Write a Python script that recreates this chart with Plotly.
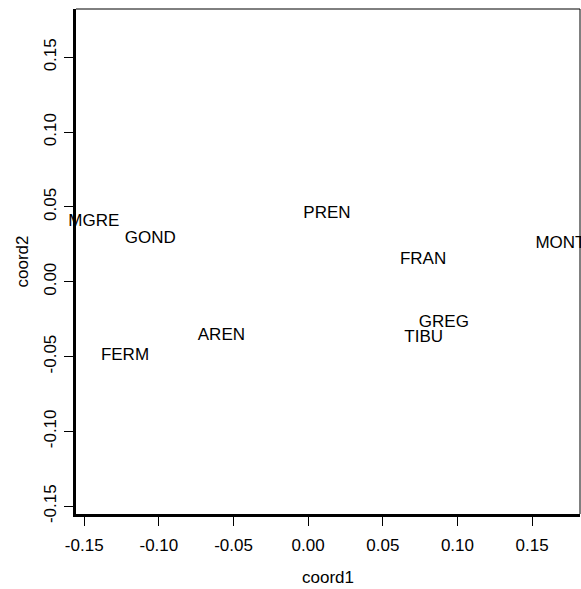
import plotly.graph_objects as go

labels = ["MGRE", "GOND", "PREN", "FRAN", "MONT", "FERM", "AREN", "GREG", "TIBU"]
coord1 = [-0.1436, -0.1058, 0.0126, 0.0770, 0.1690, -0.1227, -0.0581, 0.0909, 0.0774]
coord2 = [0.0404, 0.0289, 0.0456, 0.0148, 0.0255, -0.0496, -0.0364, -0.0275, -0.0376]

tickvals = [-0.15, -0.10, -0.05, 0.00, 0.05, 0.10, 0.15]
ticktext = ["-0.15", "-0.10", "-0.05", "0.00", "0.05", "0.10", "0.15"]

FONT = "Liberation Sans, Arial, Helvetica, sans-serif"

fig = go.Figure()
fig.add_trace(go.Scatter(
    x=coord1, y=coord2, text=labels, mode="text",
    textposition="middle center", cliponaxis=False,
    textfont=dict(family=FONT, size=17, color="black"),
    hoverinfo="text", showlegend=False,
))

axis_common = dict(
    showgrid=False, zeroline=False, showline=True, linecolor="black",
    linewidth=3, ticks="outside", ticklen=9, tickwidth=1, tickcolor="black",
    tickfont=dict(family=FONT, size=17, color="black"),
    tickvals=tickvals, ticktext=ticktext,
)

fig.update_layout(
    width=581, height=589,
    margin=dict(l=76, r=1, t=9, b=75),
    paper_bgcolor="white", plot_bgcolor="white",
    xaxis=dict(range=[-0.1555, 0.1821], ticklabelstandoff=5, **axis_common),
    yaxis=dict(range=[-0.1552, 0.1823], tickangle=-90, ticklabelstandoff=1,
               **axis_common),
    shapes=[
        dict(type="line", xref="paper", yref="paper", x0=0, x1=1, y0=1, y1=1,
             line=dict(color="black", width=1)),
        dict(type="line", xref="paper", yref="paper", x0=1, x1=1, y0=0, y1=1,
             line=dict(color="black", width=1)),
    ],
    annotations=[
        dict(text="coord1", xref="paper", yref="paper", x=0.5, y=-0.1267,
             xanchor="center", yanchor="middle", showarrow=False,
             font=dict(family=FONT, size=17, color="black")),
        dict(text="coord2", xref="paper", yref="paper", x=-0.1052, y=0.5,
             xanchor="center", yanchor="middle", showarrow=False, textangle=-90,
             font=dict(family=FONT, size=17, color="black")),
    ],
)

fig.write_html(
    "out.html",
    config={"displayModeBar": False},
    post_script="document.body.style.margin='0';document.body.style.overflow='hidden';",
)
